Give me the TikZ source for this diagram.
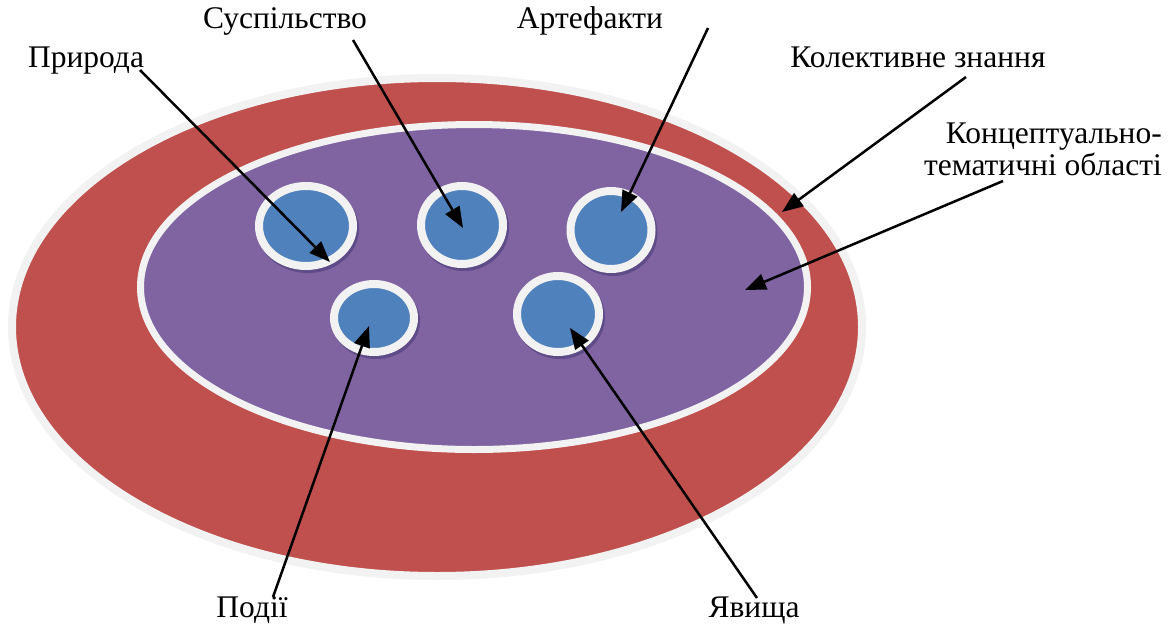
\documentclass[tikz,border=0pt]{standalone}
\usepackage{fontspec}
\setmainfont{Liberation Serif}
\usetikzlibrary{arrows.meta,shapes.geometric}
\definecolor{ringred}{HTML}{C0504D}
\definecolor{areapurple}{HTML}{8064A2}
\definecolor{bubbleblue}{HTML}{4F81BD}
\definecolor{rimgray}{HTML}{F2F2F2}
\definecolor{shadowc}{HTML}{5E4C88}
\begin{document}
\begin{tikzpicture}[x=1pt,y=-1pt,
  lbl/.style={font=\fontsize{31.5}{34}\selectfont, inner sep=0pt},
  conn/.style={line width=2.5pt, -{Triangle[length=21pt,width=16pt]}},
  bigell/.style={ellipse, inner sep=0pt, outer sep=0pt},
  bubble/.style={ellipse, inner sep=0pt, outer sep=0pt, fill=bubbleblue, draw=rimgray, line width=8pt,
    preaction={draw=shadowc, fill=shadowc, line width=8pt, transform canvas={shift={(2pt,-3pt)}}}}]
\useasboundingbox (0,0) rectangle (1169,624);
\fill[white] (0,0) rectangle (1169,624);
% ellipses
\node[bigell, fill=ringred, draw=rimgray, line width=8pt, minimum width=850pt, minimum height=498pt] (outer) at (437,327) {};
\node[bigell, fill=areapurple, draw=rimgray, line width=7pt, minimum width=667pt, minimum height=325pt] (inner) at (474,287) {};
% bubbles
\node[bubble, minimum width=94pt, minimum height=80pt] (b1) at (306,226) {};
\node[bubble, minimum width=82pt, minimum height=78pt] (b2) at (462,225) {};
\node[bubble, minimum width=81pt, minimum height=78pt] (b3) at (611,230) {};
\node[bubble, minimum width=80pt, minimum height=68pt] (b4) at (374,318) {};
\node[bubble, minimum width=82pt, minimum height=76pt] (b5) at (558,314) {};
% labels
\node[lbl, anchor=base] (tnat) at (86,67) {Природа};
\node[lbl, anchor=base] (tsoc) at (285,28) {Суспільство};
\node[lbl, anchor=base] (tart) at (590,28) {Артефакти};
\node[lbl, anchor=base] (tcol) at (918,67) {Колективне знання};
\node[lbl, anchor=base east] (tcon1) at (1162,143) {Концептуально-};
\node[lbl, anchor=base east] (tcon2) at (1162,175) {тематичні області};
\node[lbl, anchor=base] (tpod) at (252,617) {Події};
\node[lbl, anchor=base] (tyav) at (754,617) {Явища};
% connector ends
\coordinate (nats) at (140,70);  \coordinate (natt) at (330,262);
\coordinate (socs) at (353,40);  \coordinate (soct) at (463,228);
\coordinate (arts) at (708,28);  \coordinate (artt) at (621,212);
\coordinate (cols) at (966,77);  \coordinate (colt) at (782,212);
\coordinate (cons) at (1003,181); \coordinate (cont) at (745,290);
\coordinate (pods) at (273,597); \coordinate (podt) at (369,326);
\coordinate (yavs) at (757,598); \coordinate (yavt) at (570,328);
\draw[conn] (nats) -- (natt);
\draw[conn] (socs) -- (soct);
\draw[conn] (arts) -- (artt);
\draw[conn] (cols) -- (colt);
\draw[conn] (cons) -- (cont);
\draw[conn] (pods) -- (podt);
\draw[conn] (yavs) -- (yavt);
\end{tikzpicture}
\end{document}
